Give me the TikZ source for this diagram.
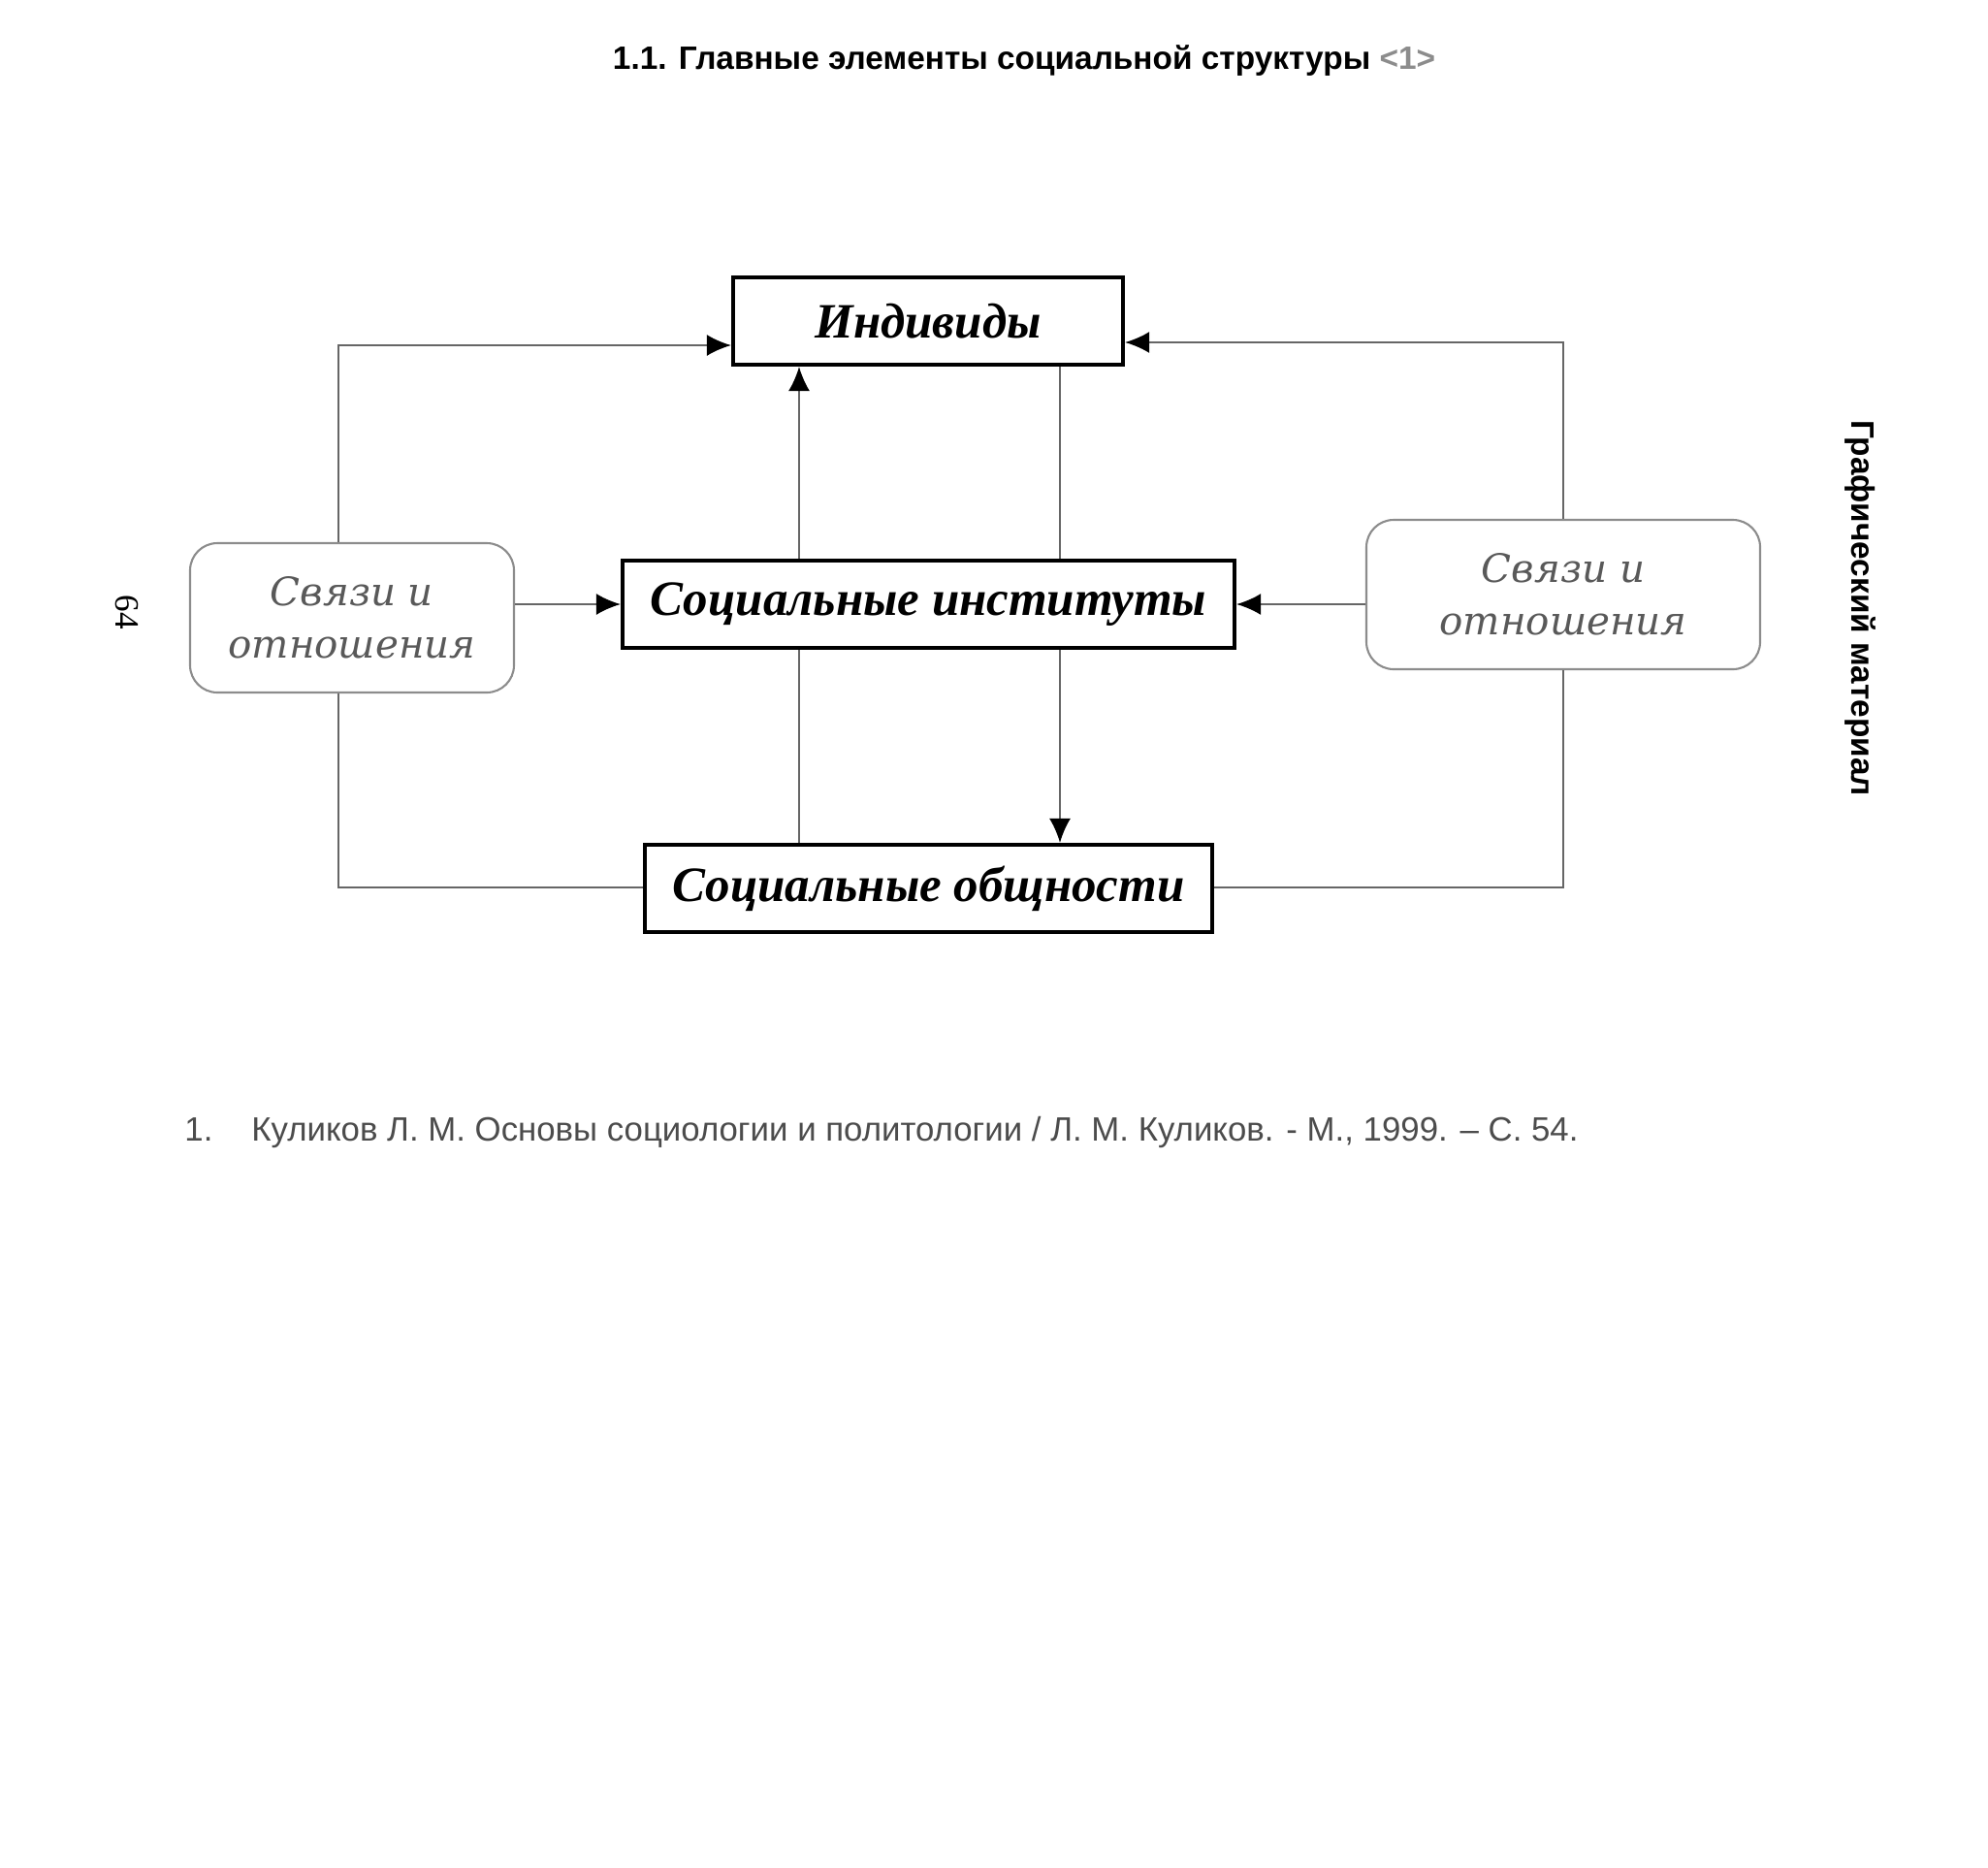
\documentclass[tikz,border=0pt]{standalone}
\usepackage{fontspec}
\setmainfont{Liberation Serif}
\setsansfont{Liberation Sans}
\newfontfamily\boxfont{DejaVu Serif}
\usepackage{tikz}
\usetikzlibrary{arrows.meta,positioning}

\begin{document}
\begin{tikzpicture}[
  mainbox/.style={draw, line width=1.2pt, minimum height=0.9cm, inner sep=0pt,
    font=\rmfamily\bfseries\itshape\fontsize{14.5}{16}\selectfont},
  linkbox/.style={draw=black!45, rounded corners=8pt, line width=0.6pt,
    minimum height=1.54cm, align=center, text=black!65,
    font=\boxfont\itshape\fontsize{11.5}{15.5}\selectfont},
  conn/.style={draw=black!60, line width=0.6pt},
  arr/.style={conn, -{Latex[length=2.5mm,width=2.2mm,color=black]}}
]
\useasboundingbox (0,0) rectangle (20.5,-19.25);

% Title
\node[font=\sffamily\bfseries\fontsize{9.5}{11}\selectfont] (title) at (10.56,-0.63)
  {1.1. Главные элементы социальной структуры {\color{black!45}<1>}};

% Main elements
\node[mainbox, minimum width=4.02cm] (indiv) at (9.57,-3.31) {Индивиды};
\node[mainbox, minimum width=6.31cm] (inst) at (9.575,-6.23) {Социальные институты};
\node[mainbox, minimum width=5.85cm] (comm) at (9.575,-9.16) {Социальные общности};

% Links and relations
\node[linkbox, minimum width=3.34cm] (linkL) at (3.63,-6.37) {Связи и\\отношения};
\node[linkbox, minimum width=4.06cm] (linkR) at (16.12,-6.13) {Связи и\\отношения};

% Corners of the outer frame
\coordinate (lt) at (3.49,-3.56);
\coordinate (lb) at (3.49,-9.15);
\coordinate (rt) at (16.12,-3.53);
\coordinate (rb) at (16.12,-9.15);
\coordinate (va) at (8.24,0);
\coordinate (vb) at (10.93,0);

% Outer frame
\draw[arr] (linkL.north -| lt) -- (lt) -- (lt -| indiv.west);
\draw[conn] (linkL.south -| lb) -- (lb) -- (lb -| comm.west);
\draw[arr] (linkR.north) -- (rt) -- (rt -| indiv.east);
\draw[conn] (linkR.south) -- (rb) -- (rb -| comm.east);

% Into the institutions
\draw[arr] (linkL.east |- inst.west) -- (inst.west);
\draw[arr] (linkR.west |- inst.east) -- (inst.east);

% Verticals
\draw[arr] (inst.north -| va) -- (indiv.south -| va);
\draw[conn] (indiv.south -| vb) -- (inst.north -| vb);
\draw[conn] (inst.south -| va) -- (comm.north -| va);
\draw[arr] (inst.south -| vb) -- (comm.north -| vb);

% Page margins
\node[rotate=-90, font=\sffamily\bfseries\fontsize{9.5}{11}\selectfont] (side) at (19.18,-6.27) {Графический материал};
\node[rotate=-90, font=\fontsize{10}{12}\selectfont] (pagenum) at (1.31,-6.31) {64};

% Footnote
\node[anchor=west, text=black!70, font=\sffamily\fontsize{9.9}{12}\selectfont] (note) at (1.78,-11.67)
  {1.\hspace{0.4cm}Куликов Л. М. Основы социологии и политологии / Л. М. Куликов. - М., 1999. – С. 54.};
\end{tikzpicture}
\end{document}
